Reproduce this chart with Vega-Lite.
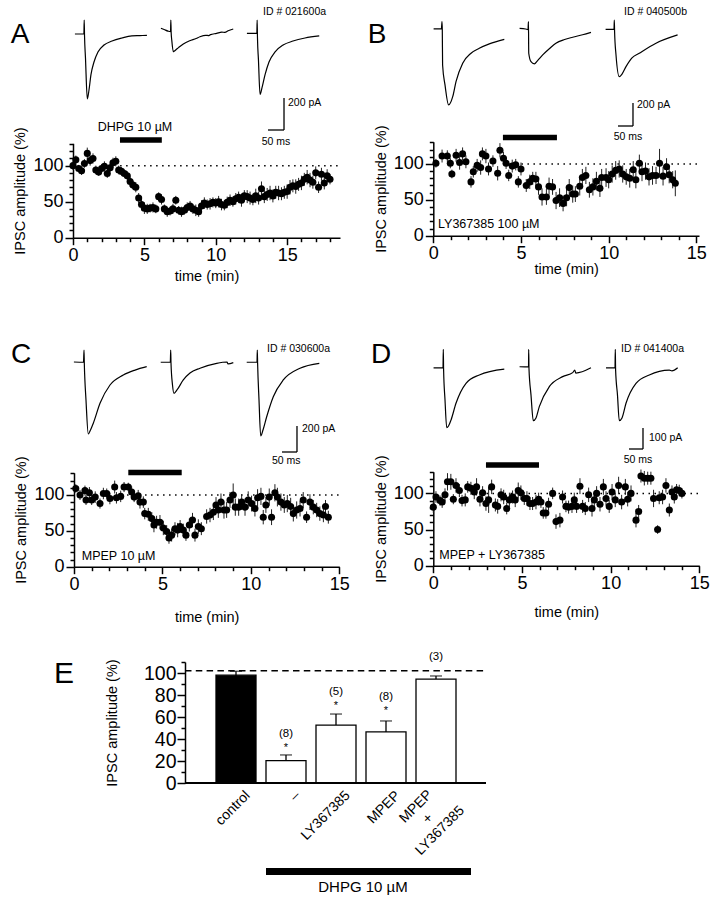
{
"$schema": "https://vega.github.io/schema/vega-lite/v6.json",
"width": 713, "height": 899, "autosize": {"type": "none"}, "padding": 0, "background": "white",
"config": {"view": {"stroke": null}, "font": "Liberation Sans",
  "axis": {"grid": false, "labelFont": "Liberation Sans", "titleFont": "Liberation Sans", "labelColor": "black", "titleColor": "black", "domainColor": "black", "tickColor": "black", "titleFontWeight": "normal", "domainWidth": 1.5, "tickWidth": 1.5, "labelFlush": false, "labelOverlap": false, "labelBound": false},
  "text": {"font": "Liberation Sans", "color": "black"}},
"datasets": {
"A": [{"t":0,"v":100,"e":6},{"t":0.2,"v":108,"e":6},{"t":0.4,"v":96,"e":5},{"t":0.6,"v":93,"e":6},{"t":0.8,"v":103,"e":6},{"t":1,"v":117,"e":8},{"t":1.2,"v":107,"e":7},{"t":1.4,"v":110,"e":7},{"t":1.6,"v":94,"e":6},{"t":1.8,"v":91,"e":5},{"t":2,"v":96,"e":6},{"t":2.2,"v":99,"e":7},{"t":2.4,"v":89,"e":6},{"t":2.6,"v":97,"e":6},{"t":2.8,"v":104,"e":7},{"t":3,"v":106,"e":7},{"t":3.2,"v":94,"e":6},{"t":3.4,"v":92,"e":6},{"t":3.6,"v":89,"e":5},{"t":3.8,"v":86,"e":6},{"t":4,"v":78,"e":7},{"t":4.2,"v":73,"e":6},{"t":4.4,"v":70,"e":7},{"t":4.6,"v":55,"e":7},{"t":4.8,"v":46,"e":8},{"t":5,"v":41,"e":8},{"t":5.2,"v":40,"e":7},{"t":5.4,"v":41,"e":6},{"t":5.6,"v":42,"e":7},{"t":5.8,"v":40,"e":6},{"t":6,"v":57,"e":6},{"t":6.2,"v":53,"e":7},{"t":6.4,"v":40,"e":6},{"t":6.6,"v":36,"e":7},{"t":6.8,"v":37,"e":6},{"t":7,"v":40,"e":7},{"t":7.2,"v":52,"e":6},{"t":7.4,"v":38,"e":6},{"t":7.6,"v":36,"e":7},{"t":7.8,"v":38,"e":6},{"t":8,"v":42,"e":7},{"t":8.2,"v":44,"e":7},{"t":8.4,"v":40,"e":7},{"t":8.6,"v":38,"e":8},{"t":8.8,"v":36,"e":7},{"t":9,"v":44,"e":8},{"t":9.2,"v":48,"e":8},{"t":9.4,"v":46,"e":7},{"t":9.6,"v":47,"e":8},{"t":9.8,"v":49,"e":7},{"t":10,"v":48,"e":7},{"t":10.2,"v":50,"e":8},{"t":10.4,"v":46,"e":8},{"t":10.6,"v":45,"e":7},{"t":10.8,"v":49,"e":8},{"t":11,"v":52,"e":8},{"t":11.2,"v":50,"e":7},{"t":11.4,"v":54,"e":8},{"t":11.6,"v":56,"e":8},{"t":11.8,"v":52,"e":9},{"t":12,"v":58,"e":8},{"t":12.2,"v":57,"e":9},{"t":12.4,"v":55,"e":9},{"t":12.6,"v":53,"e":8},{"t":12.8,"v":58,"e":10},{"t":13,"v":55,"e":9},{"t":13.2,"v":68,"e":10},{"t":13.4,"v":57,"e":9},{"t":13.6,"v":60,"e":9},{"t":13.8,"v":62,"e":10},{"t":14,"v":58,"e":9},{"t":14.2,"v":63,"e":9},{"t":14.4,"v":62,"e":10},{"t":14.6,"v":61,"e":9},{"t":14.8,"v":63,"e":9},{"t":15,"v":64,"e":10},{"t":15.2,"v":70,"e":10},{"t":15.4,"v":72,"e":9},{"t":15.6,"v":71,"e":10},{"t":15.8,"v":74,"e":9},{"t":16,"v":76,"e":10},{"t":16.2,"v":81,"e":9},{"t":16.4,"v":84,"e":10},{"t":16.6,"v":80,"e":10},{"t":16.8,"v":77,"e":9},{"t":17,"v":90,"e":9},{"t":17.2,"v":70,"e":8},{"t":17.4,"v":88,"e":9},{"t":17.6,"v":76,"e":9},{"t":17.8,"v":86,"e":9},{"t":18,"v":81,"e":7}],
"B": [{"t":0.15,"v":101,"e":6},{"t":0.5,"v":111,"e":9},{"t":0.8,"v":111,"e":8},{"t":0.97,"v":101,"e":7},{"t":1.06,"v":86,"e":6},{"t":1.3,"v":112,"e":9},{"t":1.5,"v":102,"e":10},{"t":1.67,"v":114,"e":9},{"t":1.86,"v":103,"e":9},{"t":2.15,"v":75,"e":8},{"t":2.28,"v":89,"e":8},{"t":2.5,"v":98,"e":9},{"t":2.7,"v":95,"e":10},{"t":2.8,"v":114,"e":9},{"t":3,"v":111,"e":10},{"t":3.15,"v":93,"e":9},{"t":3.4,"v":104,"e":8},{"t":3.67,"v":87,"e":10},{"t":3.8,"v":119,"e":10},{"t":4,"v":108,"e":9},{"t":4.15,"v":101,"e":8},{"t":4.3,"v":84,"e":8},{"t":4.5,"v":97,"e":9},{"t":4.7,"v":99,"e":8},{"t":4.85,"v":75,"e":8},{"t":5,"v":93,"e":9},{"t":5.3,"v":70,"e":9},{"t":5.5,"v":75,"e":10},{"t":5.67,"v":80,"e":9},{"t":5.85,"v":79,"e":10},{"t":6,"v":68,"e":11},{"t":6.2,"v":54,"e":12},{"t":6.45,"v":54,"e":11},{"t":6.6,"v":69,"e":12},{"t":6.8,"v":68,"e":11},{"t":7,"v":49,"e":12},{"t":7.2,"v":53,"e":13},{"t":7.4,"v":45,"e":11},{"t":7.6,"v":53,"e":12},{"t":7.75,"v":67,"e":12},{"t":7.95,"v":58,"e":12},{"t":8.1,"v":58,"e":11},{"t":8.35,"v":69,"e":13},{"t":8.5,"v":81,"e":12},{"t":8.7,"v":84,"e":12},{"t":8.9,"v":64,"e":11},{"t":9.1,"v":68,"e":12},{"t":9.3,"v":76,"e":13},{"t":9.5,"v":66,"e":12},{"t":9.6,"v":81,"e":12},{"t":9.85,"v":81,"e":13},{"t":10,"v":78,"e":12},{"t":10.2,"v":86,"e":12},{"t":10.4,"v":91,"e":13},{"t":10.6,"v":93,"e":12},{"t":10.8,"v":86,"e":12},{"t":11,"v":82,"e":11},{"t":11.2,"v":80,"e":13},{"t":11.4,"v":92,"e":12},{"t":11.55,"v":78,"e":12},{"t":11.75,"v":101,"e":12},{"t":11.9,"v":89,"e":13},{"t":12.1,"v":90,"e":12},{"t":12.3,"v":82,"e":12},{"t":12.5,"v":84,"e":13},{"t":12.7,"v":84,"e":12},{"t":12.9,"v":101,"e":20},{"t":13.1,"v":83,"e":13},{"t":13.3,"v":96,"e":12},{"t":13.45,"v":85,"e":12},{"t":13.65,"v":78,"e":12},{"t":13.8,"v":73,"e":18}],
"C": [{"t":0.1,"v":109,"e":6},{"t":0.34,"v":100,"e":7},{"t":0.62,"v":106,"e":7},{"t":0.68,"v":93,"e":7},{"t":0.87,"v":103,"e":8},{"t":1,"v":93,"e":7},{"t":1.2,"v":97,"e":8},{"t":1.47,"v":88,"e":7},{"t":1.66,"v":102,"e":8},{"t":1.85,"v":102,"e":7},{"t":2.03,"v":95,"e":8},{"t":2.3,"v":111,"e":9},{"t":2.4,"v":96,"e":8},{"t":2.64,"v":98,"e":8},{"t":2.83,"v":111,"e":7},{"t":3.07,"v":111,"e":6},{"t":3.26,"v":104,"e":8},{"t":3.4,"v":97,"e":7},{"t":3.63,"v":99,"e":8},{"t":3.73,"v":90,"e":9},{"t":3.92,"v":90,"e":8},{"t":4,"v":74,"e":8},{"t":4.2,"v":73,"e":9},{"t":4.4,"v":67,"e":9},{"t":4.52,"v":58,"e":10},{"t":4.67,"v":62,"e":9},{"t":4.86,"v":62,"e":10},{"t":5.05,"v":54,"e":10},{"t":5.24,"v":49,"e":9},{"t":5.37,"v":40,"e":8},{"t":5.52,"v":44,"e":9},{"t":5.71,"v":53,"e":9},{"t":5.86,"v":51,"e":10},{"t":6,"v":56,"e":9},{"t":6.18,"v":51,"e":9},{"t":6.33,"v":44,"e":8},{"t":6.52,"v":58,"e":9},{"t":6.7,"v":65,"e":10},{"t":6.84,"v":44,"e":9},{"t":7.03,"v":56,"e":10},{"t":7.2,"v":53,"e":9},{"t":7.5,"v":70,"e":10},{"t":7.69,"v":72,"e":10},{"t":7.88,"v":76,"e":11},{"t":8.03,"v":86,"e":11},{"t":8.16,"v":79,"e":11},{"t":8.31,"v":90,"e":12},{"t":8.48,"v":79,"e":12},{"t":8.63,"v":79,"e":11},{"t":8.82,"v":93,"e":11},{"t":9,"v":100,"e":16},{"t":9.12,"v":83,"e":12},{"t":9.31,"v":83,"e":12},{"t":9.48,"v":90,"e":11},{"t":9.67,"v":83,"e":12},{"t":9.85,"v":93,"e":12},{"t":10.04,"v":88,"e":11},{"t":10.23,"v":81,"e":11},{"t":10.38,"v":96,"e":12},{"t":10.57,"v":98,"e":12},{"t":10.7,"v":69,"e":10},{"t":10.85,"v":86,"e":11},{"t":11.04,"v":97,"e":12},{"t":11.17,"v":69,"e":11},{"t":11.36,"v":103,"e":12},{"t":11.5,"v":97,"e":13},{"t":11.7,"v":90,"e":12},{"t":11.89,"v":86,"e":11},{"t":12.06,"v":88,"e":12},{"t":12.25,"v":84,"e":12},{"t":12.4,"v":74,"e":11},{"t":12.59,"v":79,"e":12},{"t":12.78,"v":81,"e":11},{"t":12.96,"v":93,"e":11},{"t":13.15,"v":69,"e":8},{"t":13.34,"v":90,"e":11},{"t":13.53,"v":83,"e":10},{"t":13.72,"v":79,"e":10},{"t":13.9,"v":74,"e":10},{"t":14.1,"v":72,"e":10},{"t":14.22,"v":84,"e":9},{"t":14.38,"v":69,"e":9}],
"D": [{"t":0,"v":81,"e":8},{"t":0.15,"v":95,"e":8},{"t":0.38,"v":90,"e":7},{"t":0.5,"v":88,"e":8},{"t":0.66,"v":98,"e":9},{"t":0.8,"v":116,"e":12},{"t":0.99,"v":116,"e":11},{"t":1.13,"v":92,"e":7},{"t":1.28,"v":111,"e":10},{"t":1.47,"v":104,"e":9},{"t":1.62,"v":90,"e":8},{"t":1.8,"v":91,"e":9},{"t":1.94,"v":109,"e":8},{"t":2.12,"v":107,"e":9},{"t":2.31,"v":102,"e":10},{"t":2.44,"v":109,"e":12},{"t":2.63,"v":92,"e":10},{"t":2.78,"v":101,"e":9},{"t":2.97,"v":86,"e":10},{"t":3.12,"v":91,"e":18},{"t":3.29,"v":109,"e":10},{"t":3.5,"v":84,"e":9},{"t":3.63,"v":82,"e":10},{"t":3.82,"v":98,"e":9},{"t":3.97,"v":95,"e":10},{"t":4.14,"v":79,"e":8},{"t":4.29,"v":91,"e":10},{"t":4.47,"v":95,"e":9},{"t":4.62,"v":91,"e":10},{"t":4.79,"v":104,"e":11},{"t":4.94,"v":101,"e":10},{"t":5.13,"v":93,"e":9},{"t":5.28,"v":93,"e":10},{"t":5.45,"v":86,"e":9},{"t":5.6,"v":86,"e":9},{"t":5.79,"v":88,"e":10},{"t":5.94,"v":92,"e":9},{"t":6.07,"v":88,"e":8},{"t":6.2,"v":73,"e":8},{"t":6.35,"v":73,"e":8},{"t":6.5,"v":85,"e":9},{"t":6.73,"v":100,"e":8},{"t":6.92,"v":61,"e":10},{"t":7.14,"v":63,"e":10},{"t":7.29,"v":95,"e":9},{"t":7.48,"v":82,"e":8},{"t":7.63,"v":81,"e":9},{"t":7.82,"v":82,"e":9},{"t":7.95,"v":91,"e":10},{"t":8.08,"v":82,"e":9},{"t":8.27,"v":110,"e":11},{"t":8.42,"v":82,"e":9},{"t":8.57,"v":79,"e":9},{"t":8.76,"v":98,"e":10},{"t":8.95,"v":79,"e":11},{"t":9.08,"v":91,"e":10},{"t":9.21,"v":100,"e":10},{"t":9.4,"v":85,"e":10},{"t":9.59,"v":109,"e":11},{"t":9.74,"v":93,"e":10},{"t":9.92,"v":82,"e":9},{"t":10.08,"v":102,"e":11},{"t":10.26,"v":91,"e":10},{"t":10.45,"v":111,"e":12},{"t":10.62,"v":88,"e":10},{"t":10.83,"v":109,"e":11},{"t":10.96,"v":92,"e":10},{"t":11.15,"v":100,"e":11},{"t":11.43,"v":63,"e":10},{"t":11.58,"v":75,"e":9},{"t":11.71,"v":124,"e":9},{"t":11.9,"v":121,"e":10},{"t":12.09,"v":121,"e":9},{"t":12.27,"v":121,"e":9},{"t":12.42,"v":93,"e":12},{"t":12.65,"v":50,"e":6},{"t":12.74,"v":94,"e":9},{"t":12.93,"v":95,"e":10},{"t":13.12,"v":111,"e":10},{"t":13.31,"v":77,"e":9},{"t":13.46,"v":102,"e":9},{"t":13.59,"v":95,"e":9},{"t":13.72,"v":105,"e":8},{"t":13.87,"v":104,"e":8},{"t":14.02,"v":100,"e":7}],
"tr": [
{"p":"A1","t":0,"i":0},{"p":"A1","t":28,"i":0},{"p":"A1","t":29,"i":87},{"p":"A1","t":30,"i":-10},{"p":"A1","t":33,"i":-150},{"p":"A1","t":38.7,"i":-406},{"p":"A1","t":44,"i":-350},{"p":"A1","t":50,"i":-256},{"p":"A1","t":59.6,"i":-175},{"p":"A1","t":72,"i":-112},{"p":"A1","t":91,"i":-69},{"p":"A1","t":116,"i":-44},{"p":"A1","t":147,"i":-25},{"p":"A1","t":178,"i":-12},{"p":"A1","t":203,"i":-10},{"p":"A1","t":225,"i":-8},
{"p":"A2","t":0,"i":36},{"p":"A2","t":10,"i":28},{"p":"A2","t":22,"i":18},{"p":"A2","t":30,"i":14},{"p":"A2","t":31,"i":87},{"p":"A2","t":32,"i":10},{"p":"A2","t":34,"i":-40},{"p":"A2","t":38.7,"i":-110},{"p":"A2","t":41,"i":-108},{"p":"A2","t":46,"i":-100},{"p":"A2","t":55,"i":-85},{"p":"A2","t":70,"i":-62},{"p":"A2","t":90,"i":-42},{"p":"A2","t":110,"i":-28},{"p":"A2","t":122,"i":-17},{"p":"A2","t":140,"i":-8},{"p":"A2","t":150,"i":-10},{"p":"A2","t":155,"i":-4},{"p":"A2","t":174,"i":4},{"p":"A2","t":190,"i":12},{"p":"A2","t":200,"i":10},{"p":"A2","t":210,"i":20},{"p":"A2","t":226,"i":31},
{"p":"A3","t":0,"i":4},{"p":"A3","t":31,"i":4},{"p":"A3","t":32,"i":87},{"p":"A3","t":33,"i":-25},{"p":"A3","t":36,"i":-160},{"p":"A3","t":41,"i":-377},{"p":"A3","t":47,"i":-337},{"p":"A3","t":56.5,"i":-256},{"p":"A3","t":69,"i":-175},{"p":"A3","t":88,"i":-112},{"p":"A3","t":113,"i":-69},{"p":"A3","t":144,"i":-44},{"p":"A3","t":181.5,"i":-25},{"p":"A3","t":226,"i":-12},
{"p":"B1","t":0,"i":0},{"p":"B1","t":26,"i":0},{"p":"B1","t":28,"i":64},{"p":"B1","t":29,"i":-9},{"p":"B1","t":30,"i":-313},{"p":"B1","t":38,"i":-487},{"p":"B1","t":50,"i":-661},{"p":"B1","t":63.7,"i":-589},{"p":"B1","t":74.7,"i":-458},{"p":"B1","t":97,"i":-298},{"p":"B1","t":124.7,"i":-211},{"p":"B1","t":152.3,"i":-168},{"p":"B1","t":185.7,"i":-130},{"p":"B1","t":235.7,"i":-90},
{"p":"B2","t":0,"i":6},{"p":"B2","t":20,"i":0},{"p":"B2","t":28,"i":-5},{"p":"B2","t":29.5,"i":64},{"p":"B2","t":30.5,"i":-211},{"p":"B2","t":38,"i":-285},{"p":"B2","t":49,"i":-304},{"p":"B2","t":60,"i":-275},{"p":"B2","t":77,"i":-226},{"p":"B2","t":100,"i":-170},{"p":"B2","t":121,"i":-124},{"p":"B2","t":150,"i":-92},{"p":"B2","t":177,"i":-72},{"p":"B2","t":210,"i":-50},{"p":"B2","t":238,"i":-29},
{"p":"B3","t":0,"i":-3},{"p":"B3","t":28,"i":-3},{"p":"B3","t":29,"i":78},{"p":"B3","t":30,"i":-26},{"p":"B3","t":34.7,"i":-226},{"p":"B3","t":45.7,"i":-415},{"p":"B3","t":54.7,"i":-392},{"p":"B3","t":68,"i":-328},{"p":"B3","t":88,"i":-252},{"p":"B3","t":112.3,"i":-211},{"p":"B3","t":168,"i":-124},{"p":"B3","t":240,"i":-52},
{"p":"C1","t":0,"i":0},{"p":"C1","t":32,"i":-2},{"p":"C1","t":33.7,"i":92},{"p":"C1","t":34.7,"i":-8},{"p":"C1","t":40.3,"i":-292},{"p":"C1","t":48,"i":-554},{"p":"C1","t":53.7,"i":-531},{"p":"C1","t":64.7,"i":-471},{"p":"C1","t":87,"i":-318},{"p":"C1","t":120.3,"i":-177},{"p":"C1","t":164.7,"i":-100},{"p":"C1","t":203.7,"i":-62},{"p":"C1","t":242.7,"i":-36},
{"p":"C2","t":2.7,"i":-2},{"p":"C2","t":34.7,"i":-2},{"p":"C2","t":36,"i":92},{"p":"C2","t":37,"i":-8},{"p":"C2","t":42,"i":-177},{"p":"C2","t":47,"i":-241},{"p":"C2","t":57,"i":-215},{"p":"C2","t":78,"i":-138},{"p":"C2","t":100.3,"i":-85},{"p":"C2","t":133.7,"i":-48},{"p":"C2","t":189.3,"i":-10},{"p":"C2","t":223.7,"i":0},{"p":"C2","t":227,"i":-15},{"p":"C2","t":244.7,"i":-5},
{"p":"C3","t":2.7,"i":-2},{"p":"C3","t":37,"i":-2},{"p":"C3","t":38,"i":92},{"p":"C3","t":39,"i":-8},{"p":"C3","t":43.7,"i":-292},{"p":"C3","t":49.3,"i":-569},{"p":"C3","t":57,"i":-523},{"p":"C3","t":69.3,"i":-421},{"p":"C3","t":91.3,"i":-267},{"p":"C3","t":124.7,"i":-138},{"p":"C3","t":180.3,"i":-48},{"p":"C3","t":244.7,"i":-10},
{"p":"D1","t":0,"i":1},{"p":"D1","t":33.7,"i":1},{"p":"D1","t":34.8,"i":89},{"p":"D1","t":35.9,"i":-10},{"p":"D1","t":40.9,"i":-152},{"p":"D1","t":47,"i":-284},{"p":"D1","t":53.4,"i":-276},{"p":"D1","t":62.3,"i":-248},{"p":"D1","t":80.1,"i":-168},{"p":"D1","t":115.9,"i":-73},{"p":"D1","t":163.4,"i":-33},{"p":"D1","t":252.6,"i":-5},
{"p":"D2","t":0,"i":6},{"p":"D2","t":32,"i":5},{"p":"D2","t":32.6,"i":89},{"p":"D2","t":33.7,"i":-5},{"p":"D2","t":40.9,"i":-129},{"p":"D2","t":49,"i":-251},{"p":"D2","t":58.7,"i":-238},{"p":"D2","t":70.5,"i":-184},{"p":"D2","t":106.2,"i":-89},{"p":"D2","t":154,"i":-41},{"p":"D2","t":189.8,"i":-22},{"p":"D2","t":197,"i":-10},{"p":"D2","t":201,"i":-24},{"p":"D2","t":255,"i":1},
{"p":"D3","t":1.6,"i":1},{"p":"D3","t":33.7,"i":1},{"p":"D3","t":34.8,"i":89},{"p":"D3","t":35.9,"i":-10},{"p":"D3","t":42.6,"i":-129},{"p":"D3","t":49,"i":-251},{"p":"D3","t":58.7,"i":-238},{"p":"D3","t":73,"i":-168},{"p":"D3","t":108.7,"i":-73},{"p":"D3","t":156.2,"i":-33},{"p":"D3","t":227.6,"i":-10},{"p":"D3","t":237,"i":-14},{"p":"D3","t":257.6,"i":1}],
"sb": [{"p":"A","t":65.9,"t2":115.9,"i":-600,"i2":-600},{"p":"A","t":115.9,"t2":115.9,"i":-600,"i2":-400},
{"p":"B","t":41.3,"t2":91.3,"i":-844,"i2":-844},{"p":"B","t":91.3,"t2":91.3,"i":-844,"i2":-643},
{"p":"C","t":120.3,"t2":170.3,"i":-692.3,"i2":-692.3},{"p":"C","t":170.3,"t2":170.3,"i":-692.3,"i2":-492},
{"p":"D","t":83.7,"t2":133.7,"i":-385.7,"i2":-385.7},{"p":"D","t":133.7,"t2":133.7,"i":-385.7,"i2":-285.7}],
"lab": [{"p":"A","k":"letter","t":-171.6,"i":-6,"txt":"A"},{"p":"A","k":"pa","t":128.4,"i":-431,"txt":"200 pA"},{"p":"A","k":"ms","t":90.9,"i":-675,"txt":"50 ms"},{"p":"A","k":"id","t":50.3,"i":137.5,"txt":"ID # 021600a"},
{"p":"B","k":"letter","t":-188.7,"i":-52,"txt":"B"},{"p":"B","k":"pa","t":104.7,"i":-661,"txt":"200 pA"},{"p":"B","k":"ms","t":74.7,"i":-940,"txt":"50 ms"},{"p":"B","k":"id","t":61.3,"i":148,"txt":"ID # 040500b"},
{"p":"C","k":"letter","t":-176.3,"i":54,"txt":"C"},{"p":"C","k":"pa","t":187,"i":-515,"txt":"200 pA"},{"p":"C","k":"ms","t":134.3,"i":-761,"txt":"50 ms"},{"p":"C","k":"id","t":70.3,"i":100,"txt":"ID # 030600a"},
{"p":"D","k":"letter","t":-187.7,"i":62,"txt":"D"},{"p":"D","k":"pa","t":155,"i":-333,"txt":"100 pA"},{"p":"D","k":"ms","t":115.9,"i":-438,"txt":"50 ms"},{"p":"D","k":"id","t":55,"i":90.5,"txt":"ID # 041400a"}],
"E": [{"cat":"control","v":98,"e":3.6},{"cat":"–","v":20.3,"e":5.2},{"cat":"LY367385","v":52.7,"e":10},{"cat":"MPEP","v":46.4,"e":10},{"cat":"MPEP + LY367385","v":94.5,"e":2.8}],
"Eann": [{"cat":"–","v":45,"txt":"(8)"},{"cat":"LY367385","v":83,"txt":"(5)"},{"cat":"MPEP","v":78.5,"txt":"(8)"},{"cat":"MPEP + LY367385","v":114.5,"txt":"(3)"}],
"Estar": [{"cat":"–","v":32,"txt":"*"},{"cat":"LY367385","v":70.3,"txt":"*"},{"cat":"MPEP","v":65.8,"txt":"*"}],
"Elab": [{"cat":"control","txt":"control","v":-9.5},{"cat":"–","txt":"–\u00a0\u00a0\u00a0","v":-9.5},{"cat":"LY367385","txt":"LY367385","v":-9.5},{"cat":"MPEP","txt":"MPEP","v":-9.5}],
"Elab2": [{"cat":"MPEP + LY367385","txt":["MPEP","+","LY367385"],"v":-21.5}]
},
"layer": [
{"encoding": {"x": {"field":"t","type":"quantitative","scale":{"domain":[-6,225.25],"range":[73,147],"nice":false,"zero":false},"axis":null},
              "y": {"field":"i","type":"quantitative","scale":{"domain":[-600,87.5],"range":[130,20],"nice":false,"zero":false},"axis":null}},
 "layer": [
  {"data":{"name":"tr"},"transform":[{"filter":"datum.p==='A1'"}],"mark":{"type":"line","color":"black","strokeWidth":1.2,"interpolate":"monotone"}},
  {"data":{"name":"lab"},"transform":[{"filter":"datum.p==='A' && datum.k==='letter'"}],"mark":{"type":"text","fontSize":28,"align":"center","baseline":"middle"},"encoding":{"text":{"field":"txt"}}}]},
{"encoding": {"x": {"field":"t","type":"quantitative","scale":{"domain":[-6,225.25],"range":[159,233],"nice":false,"zero":false},"axis":null},
              "y": {"field":"i","type":"quantitative","scale":{"domain":[-600,87.5],"range":[130,20],"nice":false,"zero":false},"axis":null}},
 "layer": [
  {"data":{"name":"tr"},"transform":[{"filter":"datum.p==='A2'"}],"mark":{"type":"line","color":"black","strokeWidth":1.2,"interpolate":"monotone"}}]},
{"encoding": {"x": {"field":"t","type":"quantitative","scale":{"domain":[-6,225.25],"range":[245,319],"nice":false,"zero":false},"axis":null},
              "y": {"field":"i","type":"quantitative","scale":{"domain":[-600,87.5],"range":[130,20],"nice":false,"zero":false},"axis":null}},
 "layer": [
  {"data":{"name":"tr"},"transform":[{"filter":"datum.p==='A3'"}],"mark":{"type":"line","color":"black","strokeWidth":1.2,"interpolate":"monotone"}},
  {"data":{"name":"sb"},"transform":[{"filter":"datum.p==='A'"}],"mark":{"type":"rule","color":"black","strokeWidth":1.3},"encoding":{"x2":{"field":"t2"},"y2":{"field":"i2"}}},
  {"data":{"name":"lab"},"transform":[{"filter":"datum.p==='A' && (datum.k==='pa' || datum.k==='id')"}],"mark":{"type":"text","fontSize":10.5,"align":"left","baseline":"middle"},"encoding":{"text":{"field":"txt"}}},
  {"data":{"name":"lab"},"transform":[{"filter":"datum.p==='A' && datum.k==='ms'"}],"mark":{"type":"text","fontSize":10.5,"align":"center","baseline":"middle"},"encoding":{"text":{"field":"txt"}}}]},
{"encoding": {"x": {"field":"t","type":"quantitative","scale":{"domain":[-2,244.67],"range":[433,507],"nice":false,"zero":false},"axis":null},
              "y": {"field":"i","type":"quantitative","scale":{"domain":[-844,78],"range":[126,20],"nice":false,"zero":false},"axis":null}},
 "layer": [
  {"data":{"name":"tr"},"transform":[{"filter":"datum.p==='B1'"}],"mark":{"type":"line","color":"black","strokeWidth":1.2,"interpolate":"monotone"}},
  {"data":{"name":"lab"},"transform":[{"filter":"datum.p==='B' && datum.k==='letter'"}],"mark":{"type":"text","fontSize":28,"align":"center","baseline":"middle"},"encoding":{"text":{"field":"txt"}}}]},
{"encoding": {"x": {"field":"t","type":"quantitative","scale":{"domain":[-2,244.67],"range":[519,593],"nice":false,"zero":false},"axis":null},
              "y": {"field":"i","type":"quantitative","scale":{"domain":[-844,78],"range":[126,20],"nice":false,"zero":false},"axis":null}},
 "layer": [
  {"data":{"name":"tr"},"transform":[{"filter":"datum.p==='B2'"}],"mark":{"type":"line","color":"black","strokeWidth":1.2,"interpolate":"monotone"}}]},
{"encoding": {"x": {"field":"t","type":"quantitative","scale":{"domain":[-2,244.67],"range":[605,679],"nice":false,"zero":false},"axis":null},
              "y": {"field":"i","type":"quantitative","scale":{"domain":[-844,78],"range":[126,20],"nice":false,"zero":false},"axis":null}},
 "layer": [
  {"data":{"name":"tr"},"transform":[{"filter":"datum.p==='B3'"}],"mark":{"type":"line","color":"black","strokeWidth":1.2,"interpolate":"monotone"}},
  {"data":{"name":"sb"},"transform":[{"filter":"datum.p==='B'"}],"mark":{"type":"rule","color":"black","strokeWidth":1.3},"encoding":{"x2":{"field":"t2"},"y2":{"field":"i2"}}},
  {"data":{"name":"lab"},"transform":[{"filter":"datum.p==='B' && (datum.k==='pa' || datum.k==='id')"}],"mark":{"type":"text","fontSize":10.5,"align":"left","baseline":"middle"},"encoding":{"text":{"field":"txt"}}},
  {"data":{"name":"lab"},"transform":[{"filter":"datum.p==='B' && datum.k==='ms'"}],"mark":{"type":"text","fontSize":10.5,"align":"center","baseline":"middle"},"encoding":{"text":{"field":"txt"}}}]},
{"encoding": {"x": {"field":"t","type":"quantitative","scale":{"domain":[-3,243.67],"range":[73,147],"nice":false,"zero":false},"axis":null},
              "y": {"field":"i","type":"quantitative","scale":{"domain":[-692.3,100],"range":[452,349],"nice":false,"zero":false},"axis":null}},
 "layer": [
  {"data":{"name":"tr"},"transform":[{"filter":"datum.p==='C1'"}],"mark":{"type":"line","color":"black","strokeWidth":1.2,"interpolate":"monotone"}},
  {"data":{"name":"lab"},"transform":[{"filter":"datum.p==='C' && datum.k==='letter'"}],"mark":{"type":"text","fontSize":28,"align":"center","baseline":"middle"},"encoding":{"text":{"field":"txt"}}}]},
{"encoding": {"x": {"field":"t","type":"quantitative","scale":{"domain":[-3,243.67],"range":[159,233],"nice":false,"zero":false},"axis":null},
              "y": {"field":"i","type":"quantitative","scale":{"domain":[-692.3,100],"range":[452,349],"nice":false,"zero":false},"axis":null}},
 "layer": [
  {"data":{"name":"tr"},"transform":[{"filter":"datum.p==='C2'"}],"mark":{"type":"line","color":"black","strokeWidth":1.2,"interpolate":"monotone"}}]},
{"encoding": {"x": {"field":"t","type":"quantitative","scale":{"domain":[-3,243.67],"range":[245,319],"nice":false,"zero":false},"axis":null},
              "y": {"field":"i","type":"quantitative","scale":{"domain":[-692.3,100],"range":[452,349],"nice":false,"zero":false},"axis":null}},
 "layer": [
  {"data":{"name":"tr"},"transform":[{"filter":"datum.p==='C3'"}],"mark":{"type":"line","color":"black","strokeWidth":1.2,"interpolate":"monotone"}},
  {"data":{"name":"sb"},"transform":[{"filter":"datum.p==='C'"}],"mark":{"type":"rule","color":"black","strokeWidth":1.3},"encoding":{"x2":{"field":"t2"},"y2":{"field":"i2"}}},
  {"data":{"name":"lab"},"transform":[{"filter":"datum.p==='C' && (datum.k==='pa' || datum.k==='id')"}],"mark":{"type":"text","fontSize":10.5,"align":"left","baseline":"middle"},"encoding":{"text":{"field":"txt"}}},
  {"data":{"name":"lab"},"transform":[{"filter":"datum.p==='C' && datum.k==='ms'"}],"mark":{"type":"text","fontSize":10.5,"align":"center","baseline":"middle"},"encoding":{"text":{"field":"txt"}}}]},
{"encoding": {"x": {"field":"t","type":"quantitative","scale":{"domain":[-2,262.29],"range":[433,507],"nice":false,"zero":false},"axis":null},
              "y": {"field":"i","type":"quantitative","scale":{"domain":[-385.7,90.5],"range":[449,349],"nice":false,"zero":false},"axis":null}},
 "layer": [
  {"data":{"name":"tr"},"transform":[{"filter":"datum.p==='D1'"}],"mark":{"type":"line","color":"black","strokeWidth":1.2,"interpolate":"monotone"}},
  {"data":{"name":"lab"},"transform":[{"filter":"datum.p==='D' && datum.k==='letter'"}],"mark":{"type":"text","fontSize":28,"align":"center","baseline":"middle"},"encoding":{"text":{"field":"txt"}}}]},
{"encoding": {"x": {"field":"t","type":"quantitative","scale":{"domain":[-2,262.29],"range":[519,593],"nice":false,"zero":false},"axis":null},
              "y": {"field":"i","type":"quantitative","scale":{"domain":[-385.7,90.5],"range":[449,349],"nice":false,"zero":false},"axis":null}},
 "layer": [
  {"data":{"name":"tr"},"transform":[{"filter":"datum.p==='D2'"}],"mark":{"type":"line","color":"black","strokeWidth":1.2,"interpolate":"monotone"}}]},
{"encoding": {"x": {"field":"t","type":"quantitative","scale":{"domain":[-2,262.29],"range":[605,679],"nice":false,"zero":false},"axis":null},
              "y": {"field":"i","type":"quantitative","scale":{"domain":[-385.7,90.5],"range":[449,349],"nice":false,"zero":false},"axis":null}},
 "layer": [
  {"data":{"name":"tr"},"transform":[{"filter":"datum.p==='D3'"}],"mark":{"type":"line","color":"black","strokeWidth":1.2,"interpolate":"monotone"}},
  {"data":{"name":"sb"},"transform":[{"filter":"datum.p==='D'"}],"mark":{"type":"rule","color":"black","strokeWidth":1.3},"encoding":{"x2":{"field":"t2"},"y2":{"field":"i2"}}},
  {"data":{"name":"lab"},"transform":[{"filter":"datum.p==='D' && (datum.k==='pa' || datum.k==='id')"}],"mark":{"type":"text","fontSize":10.5,"align":"left","baseline":"middle"},"encoding":{"text":{"field":"txt"}}},
  {"data":{"name":"lab"},"transform":[{"filter":"datum.p==='D' && datum.k==='ms'"}],"mark":{"type":"text","fontSize":10.5,"align":"center","baseline":"middle"},"encoding":{"text":{"field":"txt"}}}]},
{"encoding": {
  "x": {"field":"t","type":"quantitative","scale":{"domain":[0,18.7],"range":[73,340],"nice":false,"zero":false},
        "axis":{"orient":"bottom","offset":-661.3,"values":[0,1,2,3,4,5,6,7,8,9,10,11,12,13,14,15,16,17,18],"labelExpr":"datum.value % 5 === 0 ? datum.label : ''","tickSize":{"condition":{"test":"datum.value % 5 === 0","value":7},"value":4},"title":"time (min)","titlePadding":5,"labelPadding":2,"labelFontSize":18,"titleFontSize":14.5}},
  "y": {"field":"v","type":"quantitative","scale":{"domain":[0,131],"range":[237.7,143.3],"nice":false,"zero":false},
        "axis":{"orient":"left","offset":-73,"values":[0,10,20,30,40,50,60,70,80,90,100,110,120,130],"labelExpr":"datum.value % 50 === 0 ? datum.label : ''","tickSize":{"condition":{"test":"datum.value % 50 === 0","value":8},"value":4},"title":"IPSC amplitude (%)","titlePadding":5,"labelPadding":2,"labelFontSize":18,"titleFontSize":14.5}}},
 "layer": [
  {"data":{"values":[{"t":3.3,"t2":18.6,"v":100}]},"mark":{"type":"rule","color":"black","strokeWidth":1.5,"strokeDash":[1.5,4.5]},"encoding":{"x2":{"field":"t2"}}},
  {"data":{"name":"A"},"mark":{"type":"errorbar","color":"#222","thickness":1},"encoding":{"yError":{"field":"e"}}},
  {"data":{"name":"A"},"mark":{"type":"circle","size":50,"color":"black","opacity":1}},
  {"data":{"values":[{"t":3.29,"t2":6.22,"v":135.7}]},"mark":{"type":"rule","color":"black","strokeWidth":5.5},"encoding":{"x2":{"field":"t2"}}},
  {"data":{"values":[{"t":4.34,"v":153,"txt":"DHPG 10 µM"}]},"mark":{"type":"text","fontSize":12.5,"align":"center","baseline":"middle"},"encoding":{"text":{"field":"txt"}}}]},
{"encoding": {
  "x": {"field":"t","type":"quantitative","scale":{"domain":[0,15.15],"range":[433.3,699],"nice":false,"zero":false},
        "axis":{"orient":"bottom","offset":-663.3,"values":[0,1,2,3,4,5,6,7,8,9,10,11,12,13,14,15],"labelExpr":"datum.value % 5 === 0 ? datum.label : ''","tickSize":{"condition":{"test":"datum.value % 5 === 0","value":7},"value":4},"title":"time (min)","titlePadding":0,"labelPadding":2,"labelFontSize":18,"titleFontSize":14.5}},
  "y": {"field":"v","type":"quantitative","scale":{"domain":[0,131],"range":[235.7,141.7],"nice":false,"zero":false},
        "axis":{"orient":"left","offset":-433.3,"values":[0,10,20,30,40,50,60,70,80,90,100,110,120,130],"labelExpr":"datum.value % 50 === 0 ? datum.label : ''","tickSize":{"condition":{"test":"datum.value % 50 === 0","value":8},"value":4},"title":"IPSC amplitude (%)","titlePadding":5,"labelPadding":2,"labelFontSize":18,"titleFontSize":14.5}}},
 "layer": [
  {"data":{"values":[{"t":4.0,"t2":15.15,"v":100}]},"mark":{"type":"rule","color":"black","strokeWidth":1.5,"strokeDash":[1.5,4.5]},"encoding":{"x2":{"field":"t2"}}},
  {"data":{"name":"B"},"mark":{"type":"errorbar","color":"#222","thickness":1},"encoding":{"yError":{"field":"e"}}},
  {"data":{"name":"B"},"mark":{"type":"circle","size":50,"color":"black","opacity":1}},
  {"data":{"values":[{"t":3.97,"t2":7.05,"v":136.8}]},"mark":{"type":"rule","color":"black","strokeWidth":5.5},"encoding":{"x2":{"field":"t2"}}},
  {"data":{"values":[{"t":0.27,"v":17,"txt":"LY367385 100 µM"}]},"mark":{"type":"text","fontSize":12.5,"align":"left","baseline":"middle"},"encoding":{"text":{"field":"txt"}}}]},
{"encoding": {
  "x": {"field":"t","type":"quantitative","scale":{"domain":[0,15],"range":[74,339.3],"nice":false,"zero":false},
        "axis":{"orient":"bottom","offset":-332.3,"values":[0,1,2,3,4,5,6,7,8,9,10,11,12,13,14,15],"labelExpr":"datum.value % 5 === 0 ? datum.label : ''","tickSize":{"condition":{"test":"datum.value % 5 === 0","value":7},"value":4},"title":"time (min)","titlePadding":17,"labelPadding":2,"labelFontSize":18,"titleFontSize":14.5}},
  "y": {"field":"v","type":"quantitative","scale":{"domain":[0,131],"range":[566.7,472.7],"nice":false,"zero":false},
        "axis":{"orient":"left","offset":-74,"values":[0,10,20,30,40,50,60,70,80,90,100,110,120,130],"labelExpr":"datum.value % 50 === 0 ? datum.label : ''","tickSize":{"condition":{"test":"datum.value % 50 === 0","value":8},"value":4},"title":"IPSC amplitude (%)","titlePadding":5,"labelPadding":2,"labelFontSize":18,"titleFontSize":14.5}}},
 "layer": [
  {"data":{"values":[{"t":3.0,"t2":15,"v":100}]},"mark":{"type":"rule","color":"black","strokeWidth":1.5,"strokeDash":[1.5,4.5]},"encoding":{"x2":{"field":"t2"}}},
  {"data":{"name":"C"},"mark":{"type":"errorbar","color":"#222","thickness":1},"encoding":{"yError":{"field":"e"}}},
  {"data":{"name":"C"},"mark":{"type":"circle","size":50,"color":"black","opacity":1}},
  {"data":{"values":[{"t":3.07,"t2":6.09,"v":131.3}]},"mark":{"type":"rule","color":"black","strokeWidth":5.5},"encoding":{"x2":{"field":"t2"}}},
  {"data":{"values":[{"t":0.44,"v":15,"txt":"MPEP 10 µM"}]},"mark":{"type":"text","fontSize":12.5,"align":"left","baseline":"middle"},"encoding":{"text":{"field":"txt"}}}]},
{"encoding": {
  "x": {"field":"t","type":"quantitative","scale":{"domain":[0,15],"range":[433.3,699.3],"nice":false,"zero":false},
        "axis":{"orient":"bottom","offset":-333.3,"values":[0,1,2,3,4,5,6,7,8,9,10,11,12,13,14,15],"labelExpr":"datum.value % 5 === 0 ? datum.label : ''","tickSize":{"condition":{"test":"datum.value % 5 === 0","value":7},"value":4},"title":"time (min)","titlePadding":13,"labelPadding":2,"labelFontSize":18,"titleFontSize":14.5}},
  "y": {"field":"v","type":"quantitative","scale":{"domain":[0,130],"range":[565.7,471.7],"nice":false,"zero":false},
        "axis":{"orient":"left","offset":-433.3,"values":[0,10,20,30,40,50,60,70,80,90,100,110,120,130],"labelExpr":"datum.value % 50 === 0 ? datum.label : ''","tickSize":{"condition":{"test":"datum.value % 50 === 0","value":8},"value":4},"title":"IPSC amplitude (%)","titlePadding":5,"labelPadding":2,"labelFontSize":18,"titleFontSize":14.5}}},
 "layer": [
  {"data":{"values":[{"t":3.0,"t2":15,"v":100}]},"mark":{"type":"rule","color":"black","strokeWidth":1.5,"strokeDash":[1.5,4.5]},"encoding":{"x2":{"field":"t2"}}},
  {"data":{"name":"D"},"mark":{"type":"errorbar","color":"#222","thickness":1},"encoding":{"yError":{"field":"e"}}},
  {"data":{"name":"D"},"mark":{"type":"circle","size":50,"color":"black","opacity":1}},
  {"data":{"values":[{"t":2.97,"t2":5.96,"v":139.3}]},"mark":{"type":"rule","color":"black","strokeWidth":5.5},"encoding":{"x2":{"field":"t2"}}},
  {"data":{"values":[{"t":0.34,"v":15,"txt":"MPEP + LY367385"}]},"mark":{"type":"text","fontSize":12.5,"align":"left","baseline":"middle"},"encoding":{"text":{"field":"txt"}}}]},
{"encoding": {
  "x": {"field":"cat","type":"nominal","scale":{"domain":["control","–","LY367385","MPEP","MPEP + LY367385"],"range":[185,487],"paddingInner":0.2,"paddingOuter":0.62},"axis":null},
  "y": {"field":"v","type":"quantitative","scale":{"domain":[0,110],"range":[783,662],"nice":false,"zero":false},
        "axis":{"orient":"left","offset":-185,"values":[0,10,20,30,40,50,60,70,80,90,100,110],"labelExpr":"datum.value % 20 === 0 && datum.value <= 100 ? datum.label : ''","tickSize":{"condition":{"test":"datum.value % 20 === 0","value":8},"value":4},"title":"IPSC amplitude (%)","titlePadding":24,"labelPadding":1,"labelFontSize":19.5,"titleFontSize":14.5}}},
 "layer": [
  {"data":{"values":[{"cat":"control","cat2":"MPEP + LY367385","v":102}]},"mark":{"type":"rule","color":"black","strokeWidth":1.5,"strokeDash":[6.5,4.3]},
   "encoding":{"x":{"field":"cat","type":"nominal","bandPosition":-0.775},"x2":{"field":"cat2","bandPosition":1.75}}},
  {"data":{"name":"E"},"mark":{"type":"errorbar","color":"black","thickness":1.3,"ticks":{"size":12}},"encoding":{"yError":{"field":"e"}}},
  {"data":{"name":"E"},"mark":{"type":"bar","stroke":"black","strokeWidth":1.3},"encoding":{"fill":{"condition":{"test":"datum.cat === 'control'","value":"black"},"value":"white"}}},
  {"data":{"values":[{"cat":"control","cat2":"MPEP + LY367385","v":0}]},"mark":{"type":"rule","color":"black","strokeWidth":2},
   "encoding":{"x":{"field":"cat","type":"nominal","bandPosition":-0.775},"x2":{"field":"cat2","bandPosition":1.75}}},
  {"data":{"name":"Eann"},"mark":{"type":"text","fontSize":11.5,"align":"center","baseline":"middle"},"encoding":{"text":{"field":"txt"}}},
  {"data":{"name":"Estar"},"mark":{"type":"text","fontSize":11,"align":"center","baseline":"middle"},"encoding":{"text":{"field":"txt"}}},
  {"data":{"name":"Elab"},"mark":{"type":"text","fontSize":14,"align":"right","baseline":"middle","angle":315},
   "encoding":{"x":{"field":"cat","type":"nominal","bandPosition":0.8},"text":{"field":"txt"}}},
  {"data":{"name":"Elab2"},"mark":{"type":"text","fontSize":14,"align":"center","baseline":"middle","angle":315,"lineHeight":17},
   "encoding":{"x":{"field":"cat","type":"nominal","bandPosition":0.0},"text":{"field":"txt"}}},
  {"data":{"values":[{"cat":"–","cat2":"MPEP + LY367385","v":-80.5}]},"mark":{"type":"rule","color":"black","strokeWidth":7},
   "encoding":{"x":{"field":"cat","type":"nominal","bandPosition":0},"x2":{"field":"cat2","bandPosition":1.375}}},
  {"data":{"values":[{"cat":"LY367385","v":-94.5,"txt":"DHPG 10 µM"}]},"mark":{"type":"text","fontSize":15,"align":"center","baseline":"middle"},
   "encoding":{"x":{"field":"cat","type":"nominal","bandPosition":1.175},"text":{"field":"txt"}}},
  {"data":{"values":[{"cat":"control","v":99.5,"txt":"E"}]},"mark":{"type":"text","fontSize":30,"align":"center","baseline":"middle"},
   "encoding":{"x":{"field":"cat","type":"nominal","bandPosition":-3.8},"text":{"field":"txt"}}}]}
],
"resolve": {"scale": {"x": "independent", "y": "independent"}, "axis": {"x": "independent", "y": "independent"}}
}
